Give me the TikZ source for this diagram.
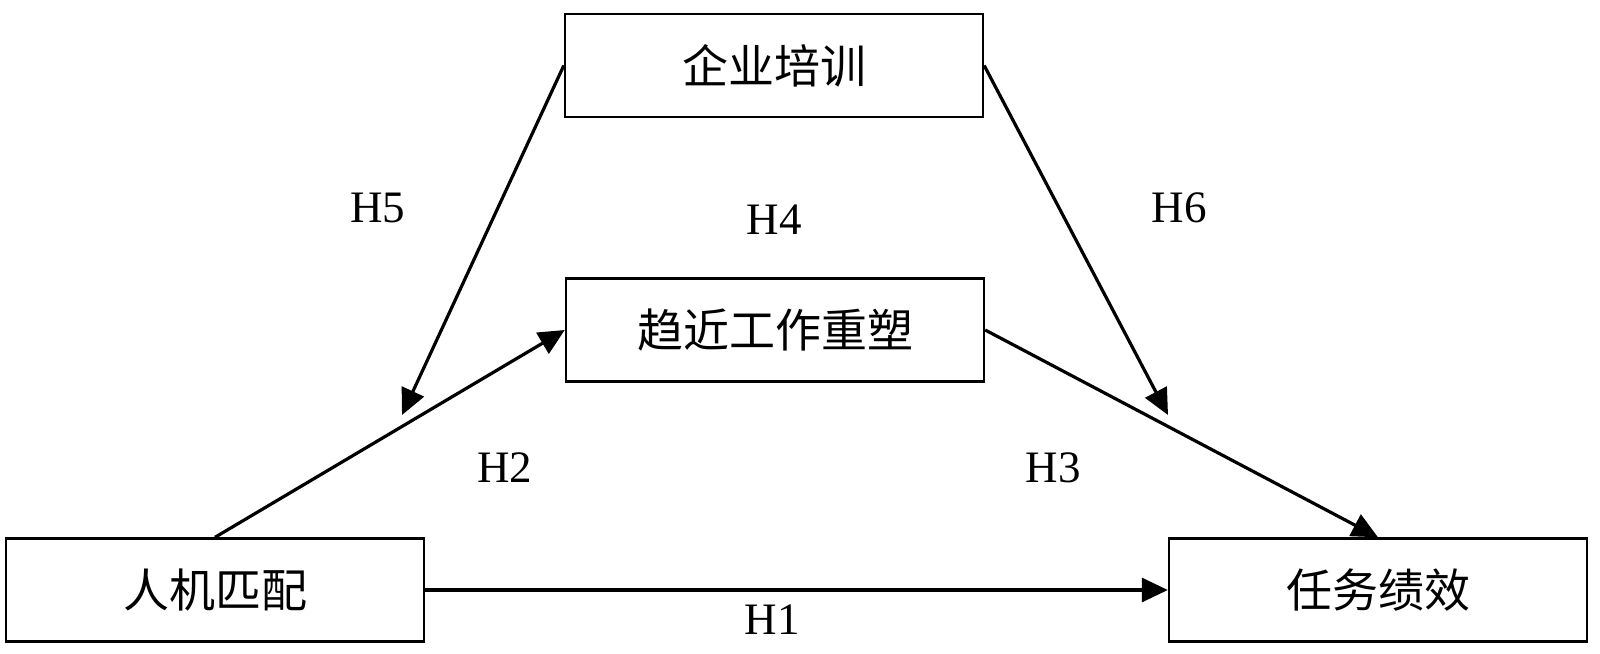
\documentclass[tikz,border=0pt]{standalone}
\usepackage{fontspec}
\setmainfont{Liberation Serif}
\newfontfamily\cjk{Noto Sans CJK SC}
\usetikzlibrary{arrows.meta}
\tikzset{
  box/.style={draw, line width=1.2pt, minimum width=209pt, minimum height=51.5pt, inner sep=0pt, font=\cjk\fontsize{23}{23}\selectfont},
  conn/.style={line width=1.6pt, -{Triangle[length=13pt,width=12pt]}},
  hlab/.style={font=\fontsize{22.5}{22.5}\selectfont, inner sep=0pt}
}
\begin{document}
\begin{tikzpicture}[x=0.5pt,y=-0.5pt]
\useasboundingbox (0,0) rectangle (1600,653);
\node[box] (train) at (774,65.5) {企业培训};
\node[box] (craft) at (775,330) {趋近工作重塑};
\node[box] (fit) at (215,590) {人机匹配};
\node[box] (perf) at (1378,590) {任务绩效};
\coordinate (h5end) at (402,415);
\coordinate (h6end) at (1168,415);
\draw[conn] (train.west) -- (h5end);
\draw[conn] (train.east) -- (h6end);
\draw[conn] (fit.north) -- (craft.west);
\draw[conn] (craft.east) -- (perf.north);
\draw[conn] (fit.east) -- (perf.west);
\node[hlab] (H5) at (378,208) {H5};
\node[hlab] (H4) at (774,220) {H4};
\node[hlab] (H6) at (1179,208) {H6};
\node[hlab] (H2) at (505,468) {H2};
\node[hlab] (H3) at (1053,468) {H3};
\node[hlab] (H1) at (772,620) {H1};
\end{tikzpicture}
\end{document}
